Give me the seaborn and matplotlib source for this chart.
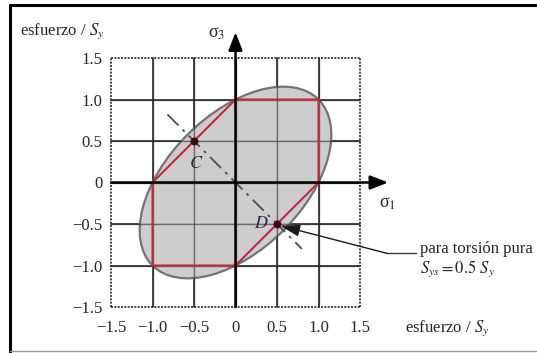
import numpy as np
import matplotlib
matplotlib.use("Agg")
import matplotlib.pyplot as plt
from matplotlib.patches import Ellipse
from matplotlib.lines import Line2D
import pandas as pd
import seaborn as sns

# Normalised stress axes (stress / Sy)
ticks = [-1.5, -1.0, -0.5, 0.0, 0.5, 1.0, 1.5]
tick_labels = ["\u22121.5", "\u22121.0", "\u22120.5", "0", "0.5", "1.0", "1.5"]

# Maximum shear stress (Tresca) hexagon vertices
tresca_s1 = [1.0, 1.0, 0.0, -1.0, -1.0, 0.0, 1.0]
tresca_s3 = [0.0, 1.0, 1.0, 0.0, -1.0, -1.0, 0.0]

# Distortion energy (von Mises) ellipse: s1^2 - s1*s3 + s3^2 = 1
vm_major = np.sqrt(2.0)        # half-length along s1 = s3
vm_minor = np.sqrt(2.0 / 3.0)  # half-length along s1 = -s3

# Pure shear line and its characteristic points
shear_s1 = [-0.82, 0.80]
shear_s3 = [0.82, -0.80]
points = pd.DataFrame({"s1": [-0.5, 0.5], "s3": [0.5, -0.5], "name": ["C", "D"]})

sns.set_theme(style="white")
plt.rcParams["font.family"] = ["Liberation Serif", "DejaVu Serif"]
plt.rcParams["mathtext.fontset"] = "stix"

fig = plt.figure(figsize=(5.37, 3.53), dpi=100)
ax = fig.add_axes([111 / 537, 46 / 353, 249 / 537, 249 / 353])
ax.set_xlim(-1.5, 1.5)
ax.set_ylim(-1.5, 1.5)
for s in ax.spines.values():
    s.set_visible(False)

# grid
grid_col = "#2a2a2a"
for t in ticks:
    edge = abs(t) == 1.5
    ls = (0, (1.2, 0.8)) if edge else "-"
    ax.plot([t, t], [-1.5, 1.5], color=grid_col, lw=1.2, ls=ls, clip_on=False, zorder=1)
    ax.plot([-1.5, 1.5], [t, t], color=grid_col, lw=1.2, ls=ls, clip_on=False, zorder=1)

# von Mises ellipse
ax.add_patch(Ellipse((0, 0), 2 * vm_major, 2 * vm_minor, angle=45,
                     facecolor="#c9c9c9", edgecolor="#6a6a6a", lw=1.6, alpha=0.92, zorder=2))

# Tresca hexagon
sns.lineplot(x=tresca_s1, y=tresca_s3, sort=False, estimator=None, ax=ax,
             color="#c4283e", lw=1.5, zorder=4)

# interior grid drawn again over the fill so it shows through
for t in ticks[1:-1]:
    ax.plot([t, t], [-1.5, 1.5], color=grid_col, lw=1.0, ls="-", alpha=0.55, zorder=3)
    ax.plot([-1.5, 1.5], [t, t], color=grid_col, lw=1.0, ls="-", alpha=0.55, zorder=3)

# pure shear line
ax.plot(shear_s1, shear_s3, color="#555555", lw=1.4, ls=(0, (8, 3, 1.5, 3)), zorder=5)

sns.scatterplot(data=points, x="s1", y="s3", ax=ax, color="#3a0a10", s=28,
                edgecolor="#3a0a10", zorder=6, legend=False)

ax.text(-0.47, 0.23, "$C$", fontsize=13, ha="center", va="center", color="#2a2a40", zorder=7)
ax.text(0.31, -0.5, "$D$", fontsize=13, ha="center", va="center", color="#2a2a40", zorder=7)

# coordinate axes with arrowheads
ax.annotate("", xy=(1.84, 0), xytext=(-1.5, 0), annotation_clip=False,
            arrowprops=dict(arrowstyle="-|>,head_length=0.9,head_width=0.35", color="black", lw=1.8,
                            shrinkA=0, shrinkB=0), zorder=8)
ax.annotate("", xy=(0, 1.81), xytext=(0, -1.5), annotation_clip=False,
            arrowprops=dict(arrowstyle="-|>,head_length=0.9,head_width=0.35", color="black", lw=1.8,
                            shrinkA=0, shrinkB=0), zorder=8)
ax.text(1.83, -0.25, "\u03c3$_1$", fontsize=13, ha="center", va="center", clip_on=False)
ax.text(-0.23, 1.79, "\u03c3$_3$", fontsize=13, ha="center", va="center", clip_on=False)

# pure torsion callout
ax.plot([1.83, 2.17], [-0.855, -0.855], color="#3a3a3a", lw=1.0, clip_on=False)
ax.annotate("", xy=(0.54, -0.52), xytext=(1.83, -0.855), annotation_clip=False,
            arrowprops=dict(arrowstyle="-|>,head_length=1.0,head_width=0.3", color="#1a1a1a",
                            lw=1.0, shrinkA=0, shrinkB=0), zorder=8)
ax.text(2.22, -0.85, "para torsión pura", fontsize=12, ha="left", va="baseline", clip_on=False)
ax.text(2.22, -1.09, "$S_{ys} = 0.5\\ S_y$", fontsize=12, ha="left", va="baseline", clip_on=False)

# axis captions
ax.text(-2.6, 1.82, "esfuerzo / $S_y$", fontsize=12, ha="left", va="center", clip_on=False)
ax.text(2.04, -1.76, "esfuerzo / $S_y$", fontsize=12, ha="left", va="center", clip_on=False)

ax.set_xticks(ticks)
ax.set_yticks(ticks)
ax.set_xticklabels(tick_labels, fontsize=12)
ax.set_yticklabels(tick_labels, fontsize=12)
ax.tick_params(length=0, pad=6)
ax.tick_params(axis="x", pad=9)
ax.set_xlabel("")
ax.set_ylabel("")

# outer frame
fig.add_artist(Line2D([9.5 / 537, 9.5 / 537], [0.5 / 353, 348.5 / 353], color="black", lw=2.2))
fig.add_artist(Line2D([9.5 / 537, 1.0], [348.5 / 353, 348.5 / 353], color="black", lw=2.2))
fig.add_artist(Line2D([9.5 / 537, 1.0], [2.0 / 353, 2.0 / 353], color="#9a9a9a", lw=1.0))

fig.savefig("out.png", dpi=100)
